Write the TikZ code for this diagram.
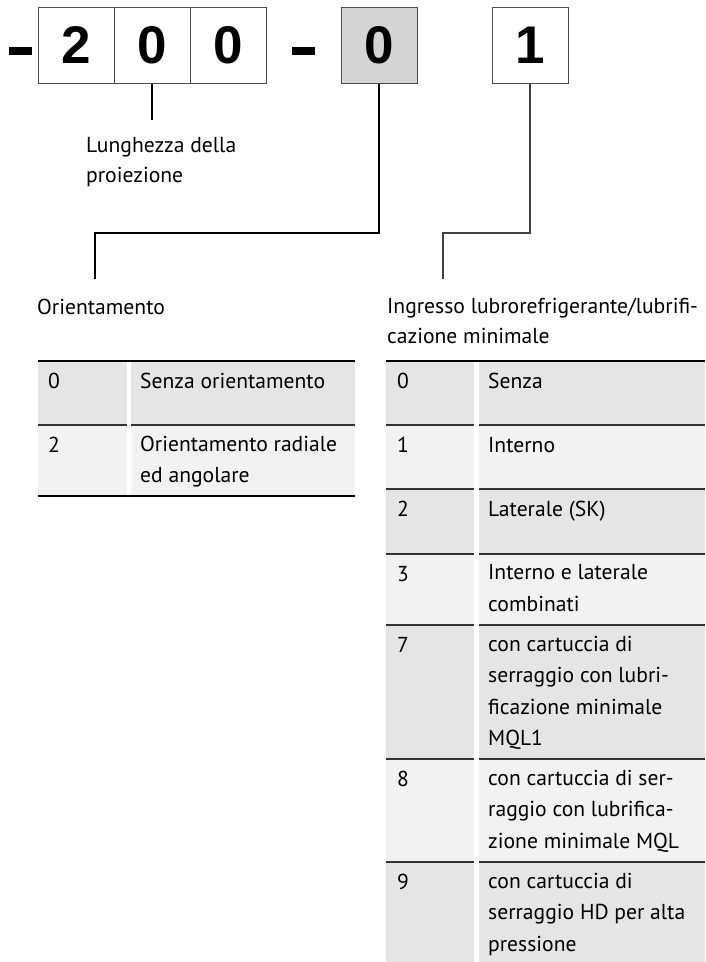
\documentclass[tikz,border=0pt]{standalone}
\usepackage{fontspec}
\setmainfont{PT Sans}
\newfontfamily\digitfont{Liberation Sans}

\begin{document}
\begin{tikzpicture}[x=1pt, y=-1pt,
  digit/.style={draw=black!70, line width=1pt, minimum size=76pt, inner sep=0pt,
                fill=#1, font=\digitfont\bfseries\fontsize{53}{53}\selectfont},
  digit/.default=white,
  dashbar/.style={fill=black, minimum width=23pt, minimum height=8pt, inner sep=0pt},
  lbl/.style={anchor=north west, inner sep=0pt, align=left,
              font=\fontsize{21.6}{30}\selectfont, execute at begin node=\rule{0pt}{17pt}},
  cell/.style={anchor=north west, inner sep=0pt, align=left,
               font=\fontsize{21.6}{31.5}\selectfont, execute at begin node=\rule{0pt}{17pt}},
  conn/.style={line width=1.2pt},
  sep/.style={draw=black!80, line width=1.3pt},
  bigrule/.style={line width=2.6pt}
]
  \useasboundingbox (0,0) rectangle (705,962);

  % Codice
  \node[dashbar] (dashA) at (20.5,51) {};
  \node[digit] (d1) at (76,45) {2};
  \node[digit] (d2) at (152,45) {0};
  \node[digit] (d3) at (228,45) {0};
  \node[dashbar] (dashB) at (303,51) {};
  \node[digit=black!17] (orient) at (379,45) {0};
  \node[digit] (lub) at (530,45) {1};

  % Etichette
  \node[lbl] (lenlbl) at (86,137) {Lunghezza della\\proiezione};
  \node[lbl] (orientlbl) at (37,297) {Orientamento};
  \node[lbl] (lublbl) at (387,298) {Ingresso lubrorefrigerante/lubrifi-\\cazione minimale};

  % Linee di richiamo
  \coordinate (lenend) at (152,120);
  \coordinate (okink) at (95,233);
  \coordinate (oend) at (95,279);
  \coordinate (lkink) at (443,233);
  \coordinate (lend) at (443,279);
  \draw[conn] (d2.south) -- (lenend);
  \draw[conn] (orient.south) |- (okink) -- (oend);
  \draw[conn, draw=black!75] (lub.south) |- (lkink) -- (lend);

  % Tabella orientamento
  \foreach \k/\top/\bot/\shade/\desc in {0/361/425/10/{Senza orientamento},
      2/425/496/5/{Orientamento radiale\\ed angolare}}
  {
    \fill[black!\shade] (38,\top) rectangle (127,\bot);
    \fill[black!\shade] (131,\top) rectangle (355,\bot);
    \node[cell] (ok\k) at (48,\top+10.5) {\k};
    \node[cell] (od\k) at (140,\top+10.5) {\desc};
  }
  \draw[sep] (38,425) -- (127,425) (131,425) -- (355,425);
  \draw[bigrule] (38,361) -- (355,361) (38,496) -- (355,496);

  % Tabella lubrorefrigerante
  \foreach \k/\top/\bot/\shade/\desc in {0/361/425/10/{Senza},
      1/425/489/5/{Interno},
      2/489/554/10/{Laterale (SK)},
      3/554/625/5/{Interno e laterale\\combinati},
      7/625/759/10/{con cartuccia di\\serraggio con lubri-\\ficazione minimale\\MQL1},
      8/759/862/5/{con cartuccia di ser-\\raggio con lubrifica-\\zione minimale MQL},
      9/862/962/10/{con cartuccia di\\serraggio HD per alta\\pressione}}
  {
    \fill[black!\shade] (386,\top) rectangle (474,\bot);
    \fill[black!\shade] (479,\top) rectangle (705,\bot);
    \node[cell] (lk\k) at (397,\top+10.5) {\k};
    \node[cell] (ld\k) at (488,\top+10.5) {\desc};
  }
  \foreach \y in {425,489,554,625,759,862}
    \draw[sep] (386,\y) -- (474,\y) (479,\y) -- (705,\y);
  \draw[bigrule] (386,361) -- (705,361);
\end{tikzpicture}
\end{document}
